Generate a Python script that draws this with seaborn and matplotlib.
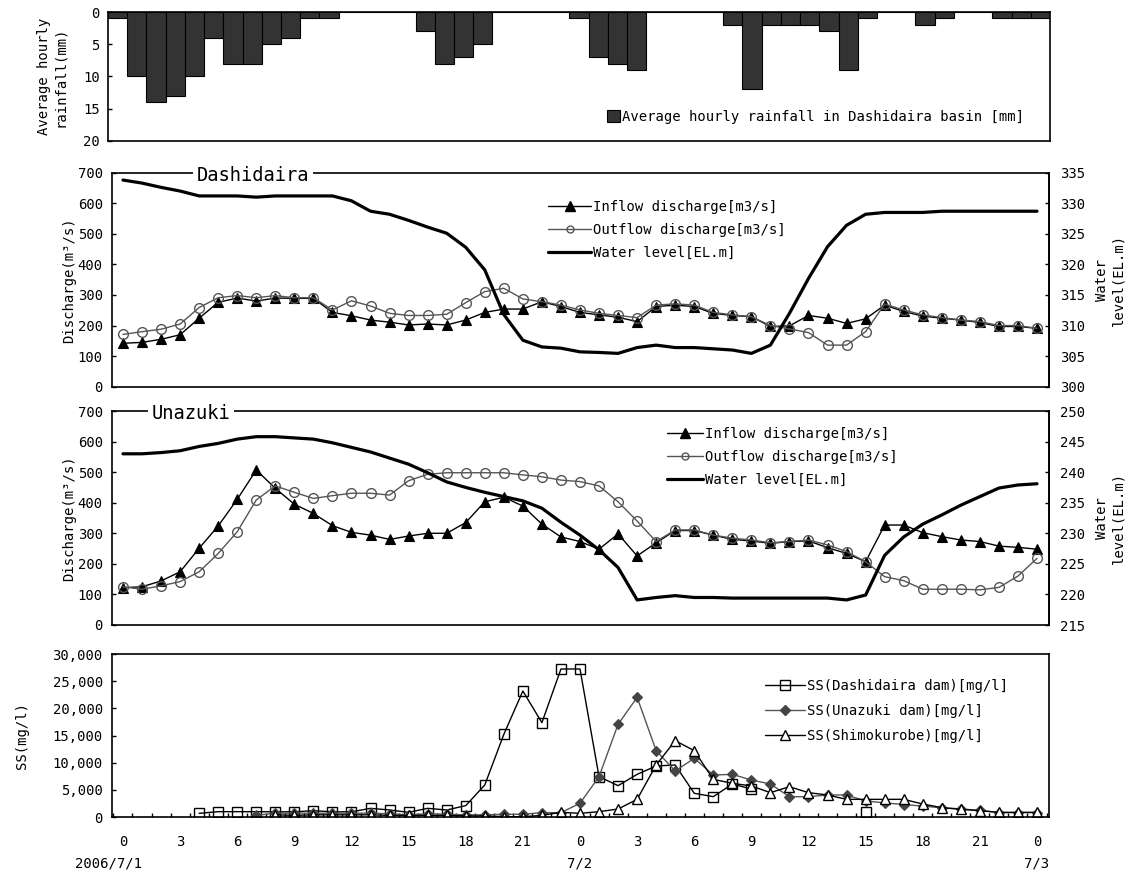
import numpy as np
import pandas as pd
import matplotlib
matplotlib.use('Agg')
import matplotlib.pyplot as plt
from matplotlib.lines import Line2D
from matplotlib.patches import Patch
from matplotlib.ticker import FuncFormatter
import seaborn as sns

NA = np.nan

# hours from 2006/7/1 0:00 to 2006/7/3 0:00
hours = list(range(49))
hour_labels = ['0', '3', '6', '9', '12', '15', '18', '21',
               '0', '3', '6', '9', '12', '15', '18', '21', '0']
date_labels = ['2006/7/1', '7/2', '7/3']

# average hourly rainfall in Dashidaira basin [mm]
rain = [1, 10, 14, 13, 10, 4, 8, 8, 5, 4, 1, 1, 0, 0, 0, 0, 3, 8, 7, 5,
        0, 0, 0, 0, 1, 7, 8, 9, 0, 0, 0, 0, 2, 12, 2, 2, 2, 3, 9, 1,
        0, 0, 2, 1, 0, 0, 1, 1, 1]

# Dashidaira dam
dashi_in = [142, 145, 155, 170, 224, 276, 290, 280, 290, 289, 289, 243,
            232, 218, 211, 202, 205, 202, 218, 243, 254, 254, 278, 262,
            243, 235, 227, 213, 262, 267, 262, 240, 233, 229, 197, 199,
            233, 224, 207, 222, 267, 246, 231, 224, 218, 210, 197, 197, 191]
dashi_out = [171, 180, 188, 205, 259, 291, 298, 291, 298, 291, 291, 251,
             281, 264, 240, 233, 233, 237, 275, 311, 322, 287, 278, 267,
             251, 240, 233, 226, 267, 271, 267, 243, 235, 229, 200, 189,
             177, 136, 136, 180, 270, 251, 235, 226, 218, 213, 200, 200, 191]
dashi_wl = [333.8, 333.3, 332.6, 332.0, 331.2, 331.2, 331.2, 331.0, 331.2,
            331.2, 331.2, 331.2, 330.4, 328.7, 328.2, 327.2, 326.1, 325.1,
            322.8, 319.1, 311.8, 307.6, 306.5, 306.3, 305.7, 305.6, 305.45,
            306.4, 306.8, 306.4, 306.4, 306.2, 306.0, 305.45, 306.8, 312.0,
            317.7, 322.9, 326.4, 328.2, 328.5, 328.5, 328.5, 328.7, 328.7,
            328.7, 328.7, 328.7, 328.7]

# Unazuki dam
una_in = [122, 125, 144, 174, 251, 324, 411, 507, 447, 395, 365, 325,
          303, 294, 280, 291, 300, 300, 335, 403, 418, 389, 330, 288,
          273, 248, 298, 226, 269, 309, 309, 294, 280, 275, 267, 273,
          275, 253, 234, 207, 327, 327, 302, 289, 278, 273, 258, 254, 248]
una_out = [125, 117, 128, 142, 174, 234, 305, 409, 455, 434, 414, 423,
           431, 431, 425, 472, 493, 498, 498, 498, 498, 491, 485, 474,
           469, 455, 403, 340, 273, 311, 311, 294, 284, 278, 269, 273,
           278, 262, 240, 207, 158, 145, 117, 117, 117, 115, 123, 160, 218]
una_wl = [243.0, 243.0, 243.2, 243.5, 244.2, 244.7, 245.4, 245.8, 245.8,
          245.6, 245.4, 244.8, 244.05, 243.3, 242.3, 241.3, 239.9, 238.4,
          237.5, 236.7, 236.0, 235.3, 234.1, 231.8, 229.7, 227.3, 224.4,
          219.1, 219.5, 219.8, 219.5, 219.5, 219.4, 219.4, 219.4, 219.4,
          219.4, 219.4, 219.1, 219.9, 226.4, 229.4, 231.5, 233.0, 234.6,
          236.0, 237.4, 237.9, 238.1]

# suspended solids [mg/l]
ss_dashi = [NA, NA, NA, NA, 675, 980, 980, 980, 950, 950, 1165, 950,
            950, 1595, 1290, 860, 1595, 1290, 2090, 5890, 15210, 23190, 17360, 27240,
            27240, 7420, 5770, 7850, 9390, 9570, 4360, 3740, 6070, 5150, NA, NA,
            NA, NA, NA, 860, NA, NA, NA, NA, NA, NA, NA, NA, NA]
ss_una = [NA, NA, NA, NA, NA, NA, NA, 300, 700, 700, 700, 700,
          700, 700, 600, 400, 600, 500, 400, 400, 500, 500, 800, 800,
          2520, 7420, 17060, 22020, 12210, 8470, 10800, 7730, 7850, 6810, 6070, 3740,
          3740, 4050, 4050, 2940, 2600, 2300, 2000, 1700, 1500, 1200, 800, 800, 800]
ss_shimo = [NA, NA, NA, NA, NA, NA, NA, NA, 400, 300, 400, 400,
            400, 400, 300, 300, 300, 300, 200, 200, 50, 50, 300, 860,
            675, 980, 1470, 3250, 9570, 14050, 12210, 6930, 6200, 5710, 4480, 5580,
            4480, 4050, 3250, 3250, 3250, 3250, 2390, 1720, 1410, 1170, 860, 860, 860]

sns.set_theme(style='white')
plt.rcParams['font.family'] = ['DejaVu Sans Mono', 'DejaVu Sans']
plt.rcParams['font.size'] = 10
plt.rcParams['axes.edgecolor'] = 'black'
plt.rcParams['axes.linewidth'] = 1.2
plt.rcParams['text.color'] = 'black'
plt.rcParams['xtick.color'] = 'black'
plt.rcParams['ytick.color'] = 'black'

W, H = 1135, 888
fig = plt.figure(figsize=(W / 100, H / 100), dpi=100)
FS = 10


def box(l, t, r, b):
    return [l / W, 1 - b / H, (r - l) / W, (b - t) / H]


def series_frame(values):
    s = pd.Series(values, dtype=float)
    df = pd.DataFrame({'hour': hours, 'value': s.values,
                       'seg': s.isna().cumsum().values})
    return df.dropna()


def draw(ax, values, **kw):
    sns.lineplot(data=series_frame(values), x='hour', y='value', units='seg',
                 estimator=None, ax=ax, **kw)
    ax.set_xlabel('')
    ax.set_ylabel('')


def legend_at(ax, handles, labels, x, y, **kw):
    # place legend with its upper-left corner at pixel (x, y)
    return ax.legend(handles=handles, labels=labels, loc='upper left',
                     bbox_to_anchor=(x / W, 1 - y / H),
                     bbox_transform=fig.transFigure, frameon=False,
                     borderpad=0, borderaxespad=0, handletextpad=0.15,
                     fontsize=FS, **kw)


XLIM = (-0.55, 48.63)
GREY = '#555555'

# ---------------- rainfall ----------------
ax_r = fig.add_axes(box(108, 12, 1050, 141))
sns.barplot(x=hours, y=rain, ax=ax_r, color='#333333', saturation=1,
            edgecolor='black', linewidth=0.8, width=1.0)
ax_r.set_xlim(-0.5, 48.5)
ax_r.set_ylim(20, 0)
ax_r.set_yticks([0, 5, 10, 15, 20])
ax_r.set_xticks([])
ax_r.tick_params(axis='y', left=True, direction='in', length=3, width=1,
                 pad=6, labelsize=FS)
ax_r.set_xlabel('')
ax_r.set_ylabel('')
ax_r.legend(handles=[Patch(facecolor='#333333', edgecolor='black', lw=0.8)],
            labels=['Average hourly rainfall in Dashidaira basin [mm]'],
            loc='center left', bbox_to_anchor=(607 / W, 1 - 117 / H),
            bbox_transform=fig.transFigure, frameon=False, borderpad=0,
            borderaxespad=0, handlelength=0.95, handleheight=0.95,
            handletextpad=0.15, fontsize=FS)
fig.text(52 / W, 1 - 76.5 / H, 'Average hourly\nrainfall(mm)', rotation=90,
         ha='center', va='center', multialignment='center', fontsize=FS)


# ---------------- discharge panels ----------------
def discharge_panel(top, bottom, q_in, q_out, wl, wl_lim, title, title_x,
                    leg_xy, handle_len):
    ax = fig.add_axes(box(112.5, top, 1049, bottom))
    draw(ax, q_in, color='black', linewidth=1.0, marker='^', markersize=7,
         markerfacecolor='black', markeredgecolor='black', markeredgewidth=0.8)
    draw(ax, q_out, color=GREY, linewidth=1.0, marker='o', markersize=7,
         markerfacecolor='none', markeredgecolor=GREY, markeredgewidth=1.0)
    ax.set_xlim(*XLIM)
    ax.set_ylim(0, 700)
    ax.set_yticks(range(0, 701, 100))
    ax.set_xticks([])
    ax.tick_params(axis='y', left=True, direction='in', length=3, width=1,
                   pad=7, labelsize=FS)

    tw = ax.twinx()
    draw(tw, wl, color='black', linewidth=2.3)
    tw.set_ylim(*wl_lim)
    tw.set_yticks(range(wl_lim[0], wl_lim[1] + 1, 5))
    tw.set_xlim(*XLIM)
    for side in ('top', 'left', 'bottom'):
        tw.spines[side].set_visible(False)
    tw.tick_params(axis='y', right=True, direction='in', length=3, width=1,
                   pad=8, labelsize=FS)

    tw.text(title_x, 1 - 2.5 / (bottom - top), title,
            transform=tw.get_xaxis_transform(), ha='left', va='center',
            fontsize=13.5, zorder=10,
            bbox=dict(boxstyle='square,pad=0.2', fc='white', ec='none'))

    handles = [
        Line2D([], [], color='black', lw=1.0, marker='^', ms=7,
               mfc='black', mec='black'),
        Line2D([], [], color=GREY, lw=1.0, marker='o', ms=5,
               mfc='none', mec=GREY),
        Line2D([], [], color='black', lw=2.3),
    ]
    labels = ['Inflow discharge[m3/s]', 'Outflow discharge[m3/s]',
              'Water level[EL.m]']
    legend_at(tw, handles, labels, leg_xy[0], leg_xy[1],
              handlelength=handle_len, labelspacing=0.63)

    mid = (top + bottom) / 2
    fig.text(69 / W, 1 - mid / H, 'Discharge(m³/s)', rotation=90,
             ha='center', va='center', fontsize=FS)
    fig.text(1110 / W, 1 - mid / H, 'Water\nlevel(EL.m)', rotation=90,
             ha='center', va='center', multialignment='center', fontsize=FS)
    return ax, tw


discharge_panel(172.7, 386.7, dashi_in, dashi_out, dashi_wl, (300, 335),
                'Dashidaira', 3.89, (548, 200), 3.1)
discharge_panel(411, 625, una_in, una_out, una_wl, (215, 250),
                'Unazuki', 1.52, (667, 427), 2.6)

# ---------------- suspended solids ----------------
ax_s = fig.add_axes(box(112.5, 654, 1049, 817))
draw(ax_s, ss_dashi, color='black', linewidth=1.0, marker='s', markersize=6.5,
     markerfacecolor='none', markeredgecolor='black', markeredgewidth=1.0)
draw(ax_s, ss_una, color=GREY, linewidth=1.0, marker='D', markersize=5.5,
     markerfacecolor='#444444', markeredgecolor='#444444', markeredgewidth=0.8)
draw(ax_s, ss_shimo, color='black', linewidth=1.0, marker='^', markersize=7,
     markerfacecolor='white', markeredgecolor='black', markeredgewidth=1.0)
ax_s.set_xlim(*XLIM)
ax_s.set_ylim(0, 30000)
ax_s.set_yticks(range(0, 30001, 5000))
ax_s.yaxis.set_major_formatter(FuncFormatter(lambda v, p: f'{v:,.0f}'))
ax_s.set_xticks(range(0, 49, 3))
ax_s.set_xticklabels(hour_labels)
ax_s.set_xticks(np.arange(-0.5, 48.6, 1), minor=True)
ax_s.tick_params(axis='x', which='major', bottom=True, length=0, pad=13,
                 labelsize=FS)
ax_s.tick_params(axis='x', which='minor', bottom=True, direction='in',
                 length=3, width=1)
ax_s.tick_params(axis='y', left=True, direction='in', length=3, width=1,
                 pad=7, labelsize=FS)
for xd, lab in zip([-0.74, 24, 48], date_labels):
    ax_s.text(xd, -0.285, lab, transform=ax_s.get_xaxis_transform(),
              ha='center', va='center', fontsize=FS)

ss_handles = [
    Line2D([], [], color='black', lw=1.0, marker='s', ms=6.5,
           mfc='none', mec='black'),
    Line2D([], [], color=GREY, lw=1.0, marker='D', ms=5.5,
           mfc='#444444', mec='#444444'),
    Line2D([], [], color='black', lw=1.0, marker='^', ms=7,
           mfc='white', mec='black'),
]
legend_at(ax_s, ss_handles,
          ['SS(Dashidaira dam)[mg/l]', 'SS(Unazuki dam)[mg/l]',
           'SS(Shimokurobe)[mg/l]'],
          765, 679, handlelength=2.9, labelspacing=0.8)
fig.text(22 / W, 1 - 735.5 / H, 'SS(mg/l)', rotation=90,
         ha='center', va='center', fontsize=FS)

fig.savefig('out.png', dpi=100)
